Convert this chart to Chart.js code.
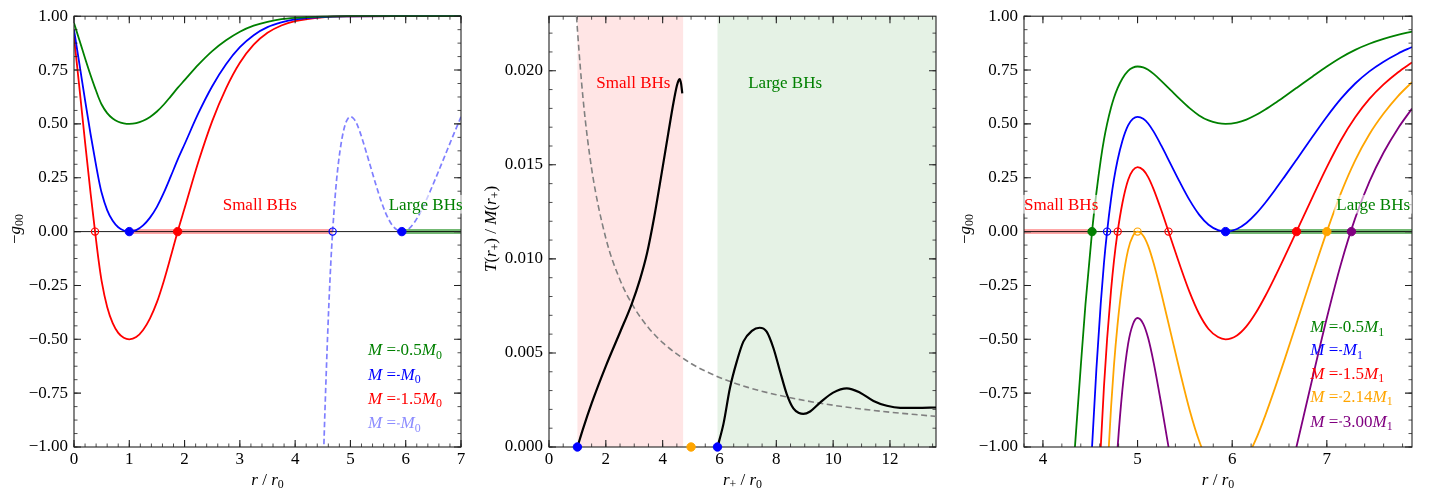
<!DOCTYPE html>
<html><head><meta charset="utf-8">
<script src="https://cdn.jsdelivr.net/npm/chart.js@4.4.0/dist/chart.umd.min.js"></script>
<style>
html,body{margin:0;padding:0;background:#fff;}
#wrap{position:relative;width:1437px;height:491px;overflow:hidden;background:#fff;}
canvas{position:absolute;left:0;top:0;}
</style></head><body>
<div id="wrap">
<canvas id="c1" width="1437" height="491"></canvas>
<canvas id="c2" width="1437" height="491"></canvas>
<canvas id="c3" width="1437" height="491"></canvas>
</div>
<script>
// ---------------- Panel 1 data ----------------
const p1_xticks = [0, 1, 2, 3, 4, 5, 6, 7];
const p1_yticks = [-1, -0.75, -0.5, -0.25, 0, 0.25, 0.5, 0.75, 1];
const p1_r     = [0, 0.1, 0.2, 0.3, 0.38, 0.45, 0.5, 0.6, 0.7, 0.8, 0.9, 1.0, 1.125, 1.25, 1.375, 1.5, 1.625, 1.75, 1.875, 2.0, 2.25, 2.5, 2.75, 3.0, 3.25, 3.5, 3.75, 4.0, 4.5, 5.0, 6.0, 7.0];
const p1_green = [0.968, 0.8875, 0.805, 0.726, 0.6675, 0.619, 0.59, 0.55, 0.525, 0.51, 0.5025, 0.5, 0.5035, 0.5145, 0.5325, 0.5575, 0.59, 0.628, 0.667, 0.703, 0.775, 0.838, 0.888, 0.928, 0.956, 0.974, 0.986, 0.992, 0.998, 1.0, 1.0, 1.0];
const p1_blue  = [0.936, 0.775, 0.61, 0.452, 0.335, 0.238, 0.18, 0.10, 0.05, 0.02, 0.005, 0, 0.007, 0.029, 0.065, 0.115, 0.1805, 0.256, 0.334, 0.4055, 0.5495, 0.675, 0.777, 0.856, 0.912, 0.949, 0.971, 0.985, 0.996, 0.999, 1.0, 1.0];
const p1_red   = [0.904, 0.6625, 0.415, 0.178, 0.0025, -0.143, -0.23, -0.35, -0.425, -0.47, -0.4925, -0.5, -0.4895, -0.4565, -0.4025, -0.3275, -0.229, -0.116, 0.001, 0.108, 0.324, 0.513, 0.665, 0.784, 0.868, 0.923, 0.957, 0.977, 0.995, 0.999, 1.0, 1.0];
const p1_dash_r = [4.40, 4.45, 4.519, 4.565, 4.611, 4.645, 4.678, 4.72, 4.75, 4.788, 4.84, 4.9, 4.95, 5.0, 5.06, 5.112, 5.17, 5.25, 5.35, 5.45, 5.55, 5.65, 5.75, 5.85, 5.93, 6.05, 6.15, 6.25, 6.35, 6.45, 6.55, 6.68, 6.85, 7.0];
const p1_dash   = [-2.25, -1.67, -1.0, -0.638, -0.333, -0.146, 0.0, 0.152, 0.241, 0.33, 0.422, 0.493, 0.523, 0.533, 0.524, 0.502, 0.464, 0.400, 0.3135, 0.227, 0.146, 0.079, 0.032, 0.007, 0.0, 0.012, 0.040, 0.082, 0.134, 0.192, 0.253, 0.334, 0.441, 0.533];
const p1_redOpen_x = [0.38],  p1_redOpen_y = [0];
const p1_blueDot_x = [1.0, 5.93], p1_blueDot_y = [0, 0];
const p1_redDot_x = [1.875], p1_redDot_y = [0];
const p1_blueOpen_x = [4.678], p1_blueOpen_y = [0];
const p1_smallBand = [1.0, 4.678];
const p1_largeBand = [5.93, 7.0];

// ---------------- Panel 2 data ----------------
const p2_xticks = [0, 2, 4, 6, 8, 10, 12];
const p2_yticks = [0, 0.005, 0.010, 0.015, 0.020];
const p2_small_r = [1.0, 1.2, 1.5, 2.0, 2.5, 2.91, 3.2, 3.45, 3.7, 3.97, 4.2, 4.38, 4.5, 4.56, 4.6, 4.65, 4.69];
const p2_small_T = [0, 0.00098, 0.00232, 0.0043, 0.0061, 0.0076, 0.0089, 0.0103, 0.0122, 0.0146, 0.0167, 0.0183, 0.0192, 0.01948, 0.01955, 0.0193, 0.0188];
const p2_large_r = [5.93, 6.14, 6.37, 6.61, 6.84, 7.14, 7.41, 7.66, 7.9, 8.13, 8.37, 8.6, 8.8, 8.95, 9.19, 9.54, 10.0, 10.48, 10.95, 11.42, 11.89, 12.36, 12.95, 13.62];
const p2_large_T = [0, 0.00123, 0.00315, 0.00455, 0.0056, 0.00617, 0.00634, 0.00613, 0.00525, 0.00403, 0.0028, 0.00205, 0.00181, 0.00176, 0.00189, 0.00236, 0.00289, 0.00312, 0.00289, 0.00245, 0.00219, 0.00208, 0.00208, 0.0021];
const p2_ref_r = [0.97, 1.0, 1.2, 1.5, 2.0, 2.5, 3.0, 3.5, 4.0, 5.0, 6.0, 7.0, 8.0, 9.0, 10.0, 11.0, 12.0, 13.0, 13.62];
const p2_ref_T = [0.0229, 0.0222, 0.0185, 0.0148, 0.0111, 0.00888, 0.0074, 0.00634, 0.00555, 0.00444, 0.0037, 0.00317, 0.00278, 0.00247, 0.00222, 0.00202, 0.00185, 0.00171, 0.00163];
const p2_blueDot_x = [1.0, 5.93], p2_blueDot_y = [0, 0];
const p2_orangeDot_x = [5.0], p2_orangeDot_y = [0];
const p2_smallSpan = [1.0, 4.72];
const p2_largeSpan = [5.93, 13.62];

// ---------------- Panel 3 data ----------------
const p3_xticks = [4, 5, 6, 7];
const p3_yticks = [-1, -0.75, -0.5, -0.25, 0, 0.25, 0.5, 0.75, 1];
const p3_r      = [4.33, 4.40, 4.45, 4.519, 4.565, 4.611, 4.645, 4.678, 4.72, 4.75, 4.788, 4.84, 4.9, 4.95, 5.0, 5.06, 5.112, 5.17, 5.25, 5.35, 5.45, 5.55, 5.65, 5.75, 5.85, 5.93, 6.05, 6.15, 6.25, 6.35, 6.45, 6.55, 6.68, 6.85, 7.0, 7.15, 7.3, 7.45, 7.6, 7.75, 7.9];
const p3_green  = [-1.05, -0.625, -0.335, 0.0, 0.181, 0.3335, 0.427, 0.5, 0.576, 0.6205, 0.665, 0.711, 0.7465, 0.7615, 0.7665, 0.762, 0.751, 0.732, 0.700, 0.6568, 0.6135, 0.573, 0.5395, 0.516, 0.5035, 0.5, 0.506, 0.52, 0.541, 0.567, 0.596, 0.6265, 0.667, 0.7205, 0.7665, 0.8085, 0.8438, 0.872, 0.8945, 0.913, 0.9285];
const p3_blue   = [null, -2.25, -1.67, -1.0, -0.638, -0.333, -0.146, 0.0, 0.152, 0.241, 0.33, 0.422, 0.493, 0.523, 0.533, 0.524, 0.502, 0.464, 0.400, 0.3135, 0.227, 0.146, 0.079, 0.032, 0.007, 0.0, 0.012, 0.040, 0.082, 0.134, 0.192, 0.253, 0.334, 0.441, 0.533, 0.617, 0.6875, 0.744, 0.789, 0.826, 0.857];
const p3_red    = [null, null, null, -2.0, -1.457, -1.0, -0.719, -0.5, -0.272, -0.1385, -0.005, 0.133, 0.2395, 0.2845, 0.2995, 0.286, 0.253, 0.196, 0.10, -0.0298, -0.1595, -0.281, -0.3815, -0.452, -0.4895, -0.5, -0.482, -0.44, -0.377, -0.299, -0.212, -0.1205, 0.001, 0.1615, 0.2995, 0.4255, 0.531, 0.616, 0.6835, 0.739, 0.7855];
const p3_orange = [null, null, null, null, null, -1.853, -1.452, -1.14, -0.815, -0.624, -0.434, -0.237, -0.085, -0.021, 0.0, -0.019, -0.066, -0.147, -0.284, -0.469, -0.654, -0.828, -0.971, -1.072, -1.125, -1.14, -1.114, -1.054, -0.965, -0.853, -0.729, -0.599, -0.425, -0.196, 0.0, 0.18, 0.331, 0.452, 0.548, 0.628, 0.694];
const p3_purple = [null, null, null, null, null, null, null, null, -1.544, -1.277, -1.01, -0.734, -0.521, -0.431, -0.401, -0.428, -0.494, -0.608, -0.80, -1.0595, -1.319, null, null, null, null, null, null, null, null, -1.598, -1.424, -1.241, -0.998, -0.677, -0.401, -0.149, 0.0625, 0.232, 0.367, 0.478, 0.571];
const p3_greenDot_x = [4.519], p3_greenDot_y = [0];
const p3_blueOpen_x = [4.678], p3_blueOpen_y = [0];
const p3_redOpen_x = [4.79, 5.327], p3_redOpen_y = [0, 0];
const p3_orangeOpen_x = [5.0], p3_orangeOpen_y = [0];
const p3_blueDot_x = [5.93], p3_blueDot_y = [0];
const p3_redDot_x = [6.68], p3_redDot_y = [0];
const p3_orangeDot_x = [7.0], p3_orangeDot_y = [0];
const p3_purpleDot_x = [7.26], p3_purpleDot_y = [0];
const p3_smallBand = [3.8, 4.519];
const p3_largeBand = [5.93, 7.9];

// ---------------- helpers ----------------
const FONT = '"Liberation Serif","Times New Roman","DejaVu Serif",serif';
const C = {green:'#008000', blue:'#0000ff', red:'#ff0000', orange:'#ffa500', purple:'#800080', light:'#8c8cff'};

function segFont(k, size){
  const sub = (k === 's');
  const it = (k === 'i') ? 'italic ' : '';
  return it + (sub ? size*0.7 : size) + 'px ' + FONT;
}
function richWidth(ctx, segs, size){
  let w = 0;
  for (const [t,k] of segs){
    if (k === 'dash'){ w += t; continue; }
    ctx.font = segFont(k,size); w += ctx.measureText(t).width;
  }
  return w;
}
function drawRich(ctx, segs, x, y, size, color, align){
  const w = richWidth(ctx, segs, size);
  let cx = align === 'center' ? x - w/2 : (align === 'right' ? x - w : x);
  const base = y + size*0.33;
  ctx.fillStyle = color; ctx.strokeStyle = color;
  ctx.textBaseline = 'alphabetic'; ctx.textAlign = 'left';
  for (const [t,k] of segs){
    if (k === 'dash'){
      ctx.beginPath(); ctx.lineWidth = 1.1;
      ctx.moveTo(cx+0.8, base - size*0.27); ctx.lineTo(cx+t-0.8, base - size*0.27); ctx.stroke();
      cx += t; continue;
    }
    ctx.font = segFont(k,size);
    const dy = (k === 's') ? size*0.2 : 0;
    ctx.fillText(t, cx, base+dy);
    cx += ctx.measureText(t).width;
  }
  return w;
}

function pts(xa, ya){ return xa.map((x,i)=>({x:x, y:ya[i]})); }
function curve(xa, ya, color, extra){
  return Object.assign({data:pts(xa,ya), borderColor:color, backgroundColor:color, borderWidth:1.8,
    pointRadius:0, cubicInterpolationMode:'monotone', fill:false, clip:{left:0,right:0,top:2,bottom:0}, order:2}, extra||{});
}
function dots(xa, ya, color, open){
  return {data:pts(xa,ya), showLine:false, pointRadius: open ? 3.6 : 4.2,
    pointBackgroundColor: open ? 'rgba(0,0,0,0)' : color, pointBorderColor: color,
    pointBorderWidth: open ? 1.2 : 1, borderColor: color, clip:false, order:0};
}
function band(range, color){
  return {data:[{x:range[0],y:0},{x:range[1],y:0}], borderColor:color, borderWidth:5, pointRadius:0, order:6, clip:0, borderCapStyle:'butt'};
}
function zeroLine(a, b){
  return {data:[{x:a,y:0},{x:b,y:0}], borderColor:'#000', borderWidth:0.9, pointRadius:0, order:5, clip:0};
}

function drawFrame(chart){
  const o = chart.options.plugins.deco, ctx = chart.ctx, ca = chart.chartArea;
  const xs = chart.scales.x, ys = chart.scales.y;
  ctx.save();
  ctx.strokeStyle = '#222'; ctx.lineWidth = 1.1;
  ctx.strokeRect(ca.left, ca.top, ca.right-ca.left, ca.bottom-ca.top);
  const LM = 7, Lm = 3.5;
  function minors(min, max, step){ const out=[]; let v = Math.ceil(min/step - 1e-6)*step; for(; v <= max + 1e-9; v += step) out.push(v); return out; }
  ctx.lineWidth = 0.8;
  ctx.beginPath();
  minors(xs.min, xs.max, o.minorX).forEach(v=>{ const p = xs.getPixelForValue(v); ctx.moveTo(p, ca.bottom); ctx.lineTo(p, ca.bottom-Lm); ctx.moveTo(p, ca.top); ctx.lineTo(p, ca.top+Lm); });
  minors(ys.min, ys.max, o.minorY).forEach(v=>{ const p = ys.getPixelForValue(v); ctx.moveTo(ca.left, p); ctx.lineTo(ca.left+Lm, p); ctx.moveTo(ca.right, p); ctx.lineTo(ca.right-Lm, p); });
  ctx.stroke();
  ctx.lineWidth = 1.1;
  ctx.beginPath();
  xs.ticks.forEach(t=>{ const p = xs.getPixelForValue(t.value); ctx.moveTo(p, ca.bottom); ctx.lineTo(p, ca.bottom-LM); ctx.moveTo(p, ca.top); ctx.lineTo(p, ca.top+LM); });
  ys.ticks.forEach(t=>{ const p = ys.getPixelForValue(t.value); ctx.moveTo(ca.left, p); ctx.lineTo(ca.left+LM, p); ctx.moveTo(ca.right, p); ctx.lineTo(ca.right-LM, p); });
  ctx.stroke();
  ctx.restore();
}

const decoPlugin = {
  id:'deco',
  beforeDatasetsDraw(chart){
    const o = chart.options.plugins.deco, ctx = chart.ctx, ca = chart.chartArea, xs = chart.scales.x;
    ctx.save();
    (o.spans||[]).forEach(s=>{
      const x0 = Math.max(xs.getPixelForValue(s.range[0]), ca.left);
      const x1 = Math.min(xs.getPixelForValue(s.range[1]), ca.right);
      ctx.fillStyle = s.color; ctx.fillRect(x0, ca.top, x1-x0, ca.bottom-ca.top);
    });
    ctx.restore();
    if (!o.frameOnTop) drawFrame(chart);
  },
  afterDatasetsDraw(chart){
    const o = chart.options.plugins.deco, ctx = chart.ctx, ca = chart.chartArea;
    const xs = chart.scales.x, ys = chart.scales.y;
    if (o.frameOnTop) drawFrame(chart);
    ctx.save();
    (o.texts||[]).forEach(t=>{
      const px = xs.getPixelForValue(t.x), py = ys.getPixelForValue(t.y);
      const size = 17;
      if (t.bbox){
        const w = richWidth(ctx, t.segs, size);
        const x0 = t.align === 'center' ? px - w/2 : (t.align === 'right' ? px - w : px);
        ctx.fillStyle = 'rgba(255,255,255,0.6)';
        ctx.fillRect(x0-2, py-size*0.55, w+4, size*1.1);
      }
      drawRich(ctx, t.segs, px, py, size, t.color, t.align);
    });
    drawRich(ctx, o.xTitle, (ca.left+ca.right)/2, 479, 17, '#000', 'center');
    ctx.translate(o.yTitleX, 229); ctx.rotate(-Math.PI/2);
    drawRich(ctx, o.yTitle, 0, 0, 17, '#000', 'center');
    ctx.restore();
  }
};

const fmt2 = v => Math.abs(v) < 1e-9 ? '0.00' : (v < 0 ? '\u2212' + Math.abs(v).toFixed(2) : v.toFixed(2));
const fmt3 = v => Math.abs(v) < 1e-12 ? '0.000' : v.toFixed(3);

function makeChart(id, o){
  return new Chart(document.getElementById(id), {
    type:'line',
    data:{datasets:o.datasets},
    plugins:[decoPlugin],
    options:{
      responsive:false, animation:false, devicePixelRatio:1, events:[],
      layout:{padding:o.padding},
      plugins:{legend:{display:false}, tooltip:{enabled:false}, deco:o.deco},
      scales:{
        x:{type:'linear', min:o.x[0], max:o.x[1], bounds:'data',
           grid:{display:false, drawTicks:false}, border:{display:false},
           ticks:{autoSkip:false, maxRotation:0, padding:2, color:'#000',
                  font:{family:FONT, size:17}, callback:o.xfmt},
           afterBuildTicks:s=>{ s.ticks = o.xticks.map(v=>({value:v})); },
           afterFit:s=>{ s.height = 44; }},
        y:{type:'linear', min:o.y[0], max:o.y[1], bounds:'data',
           grid:{display:false, drawTicks:false}, border:{display:false},
           ticks:{autoSkip:false, padding:6, color:'#000',
                  font:{family:FONT, size:17}, callback:o.yfmt},
           afterBuildTicks:s=>{ s.ticks = o.yticks.map(v=>({value:v})); },
           afterFit:s=>{ s.width = o.yWidth; }}
      }
    }
  });
}

const mSeg = (num, sub) => num === '' ?
  [['M','i'],[' =','n'],[4.5,'dash'],['M','i'],[sub,'s']] :
  [['M','i'],[' =','n'],[4.5,'dash'],[num,'n'],['M','i'],[sub,'s']];

// ---------------- Panel 1 ----------------
makeChart('c1', {
  padding:{left:0, top:11, right:976, bottom:0}, yWidth:74,
  x:[0, 7], y:[-1, 1], xticks:p1_xticks, yticks:p1_yticks, xfmt: v => v.toFixed(0), yfmt: fmt2,
  datasets:[
    band(p1_smallBand, 'rgba(255,0,0,0.35)'),
    band(p1_largeBand, 'rgba(0,128,0,0.55)'),
    zeroLine(0, 7),
    curve(p1_r, p1_green, C.green),
    curve(p1_r, p1_blue, C.blue),
    curve(p1_r, p1_red, C.red),
    curve(p1_dash_r, p1_dash, 'rgba(0,0,255,0.5)', {borderDash:[5.5,3], borderWidth:1.7, order:3}),
    dots(p1_redOpen_x, p1_redOpen_y, C.red, true),
    dots(p1_blueDot_x, p1_blueDot_y, C.blue, false),
    dots(p1_redDot_x, p1_redDot_y, C.red, false),
    dots(p1_blueOpen_x, p1_blueOpen_y, C.blue, true)
  ],
  deco:{
    minorX:0.2, minorY:0.0625, frameOnTop:true,
    xTitle:[['r','i'],[' / ','n'],['r','i'],['0','s']],
    yTitle:[['\u2212','n'],['g','i'],['00','s']], yTitleX:14,
    texts:[
      {segs:[['Small BHs','n']], x:3.36, y:0.127, color:C.red, align:'center', bbox:true},
      {segs:[['Large BHs','n']], x:6.36, y:0.127, color:C.green, align:'center', bbox:true},
      {segs:mSeg('0.5','0'), x:5.32, y:-0.548, color:C.green, align:'left'},
      {segs:mSeg('','0'), x:5.32, y:-0.663, color:C.blue, align:'left'},
      {segs:mSeg('1.5','0'), x:5.32, y:-0.773, color:C.red, align:'left'},
      {segs:mSeg('','0'), x:5.32, y:-0.888, color:C.light, align:'left'}
    ]
  }
});

// ---------------- Panel 2 ----------------
makeChart('c2', {
  padding:{left:480, top:11, right:501, bottom:0}, yWidth:69,
  x:[0, 13.62], y:[0, 0.0229], xticks:p2_xticks, yticks:p2_yticks, xfmt: v => v.toFixed(0), yfmt: fmt3,
  datasets:[
    curve(p2_ref_r, p2_ref_T, '#808080', {borderDash:[6,3.5], borderWidth:1.6, order:4}),
    curve(p2_small_r, p2_small_T, '#000', {borderWidth:2.2}),
    curve(p2_large_r, p2_large_T, '#000', {borderWidth:2.2}),
    dots(p2_blueDot_x, p2_blueDot_y, C.blue, false),
    dots(p2_orangeDot_x, p2_orangeDot_y, C.orange, false)
  ],
  deco:{
    minorX:0.5, minorY:0.001, frameOnTop:false,
    spans:[{range:p2_smallSpan, color:'rgba(255,0,0,0.1)'}, {range:p2_largeSpan, color:'rgba(0,128,0,0.1)'}],
    xTitle:[['r','i'],['+','s'],[' / ','n'],['r','i'],['0','s']],
    yTitle:[['T','i'],['(','n'],['r','i'],['+','s'],[')','n'],[' / ','n'],['M','i'],['(','n'],['r','i'],['+','s'],[')','n']], yTitleX:490,
    texts:[
      {segs:[['Small BHs','n']], x:2.97, y:0.01936, color:C.red, align:'center'},
      {segs:[['Large BHs','n']], x:8.31, y:0.01936, color:C.green, align:'center'}
    ]
  }
});

// ---------------- Panel 3 ----------------
makeChart('c3', {
  padding:{left:945, top:11, right:25, bottom:0}, yWidth:79,
  x:[3.8, 7.9], y:[-1, 1], xticks:p3_xticks, yticks:p3_yticks, xfmt: v => v.toFixed(0), yfmt: fmt2,
  datasets:[
    band(p3_smallBand, 'rgba(255,0,0,0.35)'),
    band(p3_largeBand, 'rgba(0,128,0,0.55)'),
    zeroLine(3.8, 7.9),
    curve(p3_r, p3_green, C.green),
    curve(p3_r, p3_blue, C.blue),
    curve(p3_r, p3_red, C.red),
    curve(p3_r, p3_orange, C.orange),
    curve(p3_r, p3_purple, C.purple),
    dots(p3_greenDot_x, p3_greenDot_y, C.green, false),
    dots(p3_blueOpen_x, p3_blueOpen_y, C.blue, true),
    dots(p3_redOpen_x, p3_redOpen_y, C.red, true),
    dots(p3_orangeOpen_x, p3_orangeOpen_y, C.orange, true),
    dots(p3_blueDot_x, p3_blueDot_y, C.blue, false),
    dots(p3_redDot_x, p3_redDot_y, C.red, false),
    dots(p3_orangeDot_x, p3_orangeDot_y, C.orange, false),
    dots(p3_purpleDot_x, p3_purpleDot_y, C.purple, false)
  ],
  deco:{
    minorX:0.2, minorY:0.0625, frameOnTop:true,
    xTitle:[['r','i'],[' / ','n'],['r','i'],['0','s']],
    yTitle:[['\u2212','n'],['g','i'],['00','s']], yTitleX:964,
    texts:[
      {segs:[['Small BHs','n']], x:4.193, y:0.127, color:C.red, align:'center', bbox:true},
      {segs:[['Large BHs','n']], x:7.49, y:0.127, color:C.green, align:'center', bbox:true},
      {segs:mSeg('0.5','1'), x:6.826, y:-0.442, color:C.green, align:'left'},
      {segs:mSeg('','1'), x:6.826, y:-0.548, color:C.blue, align:'left'},
      {segs:mSeg('1.5','1'), x:6.826, y:-0.658, color:C.red, align:'left'},
      {segs:mSeg('2.14','1'), x:6.826, y:-0.763, color:C.orange, align:'left'},
      {segs:mSeg('3.00','1'), x:6.826, y:-0.879, color:C.purple, align:'left'}
    ]
  }
});
</script>
</body></html>
